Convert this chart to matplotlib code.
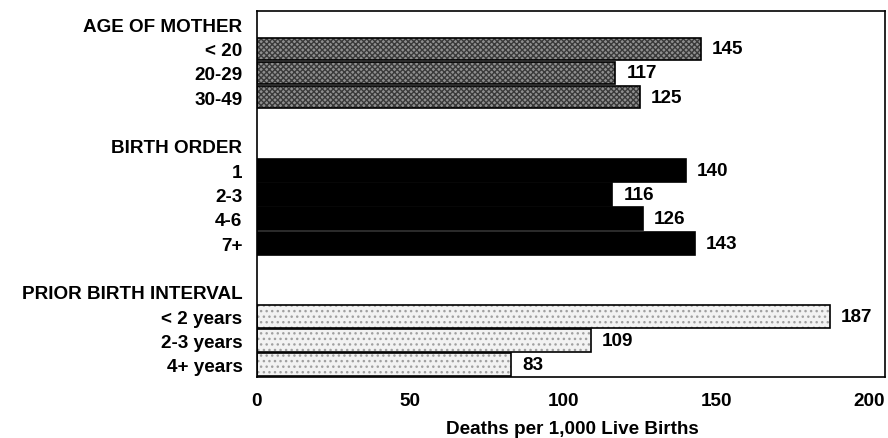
import matplotlib.pyplot as plt
import numpy as np

plt.rcParams['font.family'] = ['Liberation Sans', 'DejaVu Sans']
plt.rcParams['font.weight'] = 'bold'
FS = 13.6

# Data
age_labels = ['< 20', '20-29', '30-49']
age_values = [145, 117, 125]
order_labels = ['1', '2-3', '4-6', '7+']
order_values = [140, 116, 126, 143]
interval_labels = ['< 2 years', '2-3 years', '4+ years']
interval_values = [187, 109, 83]
headings = ['AGE OF MOTHER', 'BIRTH ORDER', 'PRIOR BIRTH INTERVAL']

# Row layout: heading, bars, blank line between groups
groups = [
    (headings[0], age_labels, age_values, '#8f8f8f', '#3a3a3a', 'xxxxxx', 0.90),
    (headings[1], order_labels, order_values, 'black', 'black', None, 0.95),
    (headings[2], interval_labels, interval_values, '#f2f2f2', '#a0a0a0', '...', 0.94),
]

fig = plt.figure(figsize=(8.88, 4.39), dpi=100)
ax = fig.add_axes([0.2894, 0.139, 0.707, 0.8337])

ticks, ticklabels = [], []
row = 0
for heading, labels, values, face, hcol, hatch, h in groups:
    ticks.append(row)
    ticklabels.append(heading)
    row += 1
    ys = np.arange(row, row + len(labels))
    # patterned fill
    ax.barh(ys, values, height=h, color=face, edgecolor=hcol, hatch=hatch,
            linewidth=0)
    # outline
    ax.barh(ys, values, height=h, fill=False, edgecolor='black', linewidth=1.2)
    for y, v, lab in zip(ys, values, labels):
        ticks.append(y)
        ticklabels.append(lab)
        ax.annotate(str(v), xy=(v, y), xytext=(8, 0), textcoords='offset points',
                    va='center', ha='left', fontsize=FS, fontweight='bold')
    row += len(labels) + 1

ax.set_ylim(14.5, -0.55)
ax.set_xlim(0, 205)
ax.set_yticks(ticks)
ax.set_yticklabels(ticklabels, fontsize=FS, fontweight='bold')
ax.set_xticks([0, 50, 100, 150, 200])
ax.tick_params(axis='y', length=0, pad=10.5)
ax.tick_params(axis='x', length=0, pad=11, labelsize=FS)
ax.set_xlabel('Deaths per 1,000 Live Births', fontsize=FS, fontweight='bold')
ax.xaxis.set_label_coords(0.503, -0.118)
for s in ax.spines.values():
    s.set_linewidth(1.2)

fig.savefig('out.png', dpi=100)
